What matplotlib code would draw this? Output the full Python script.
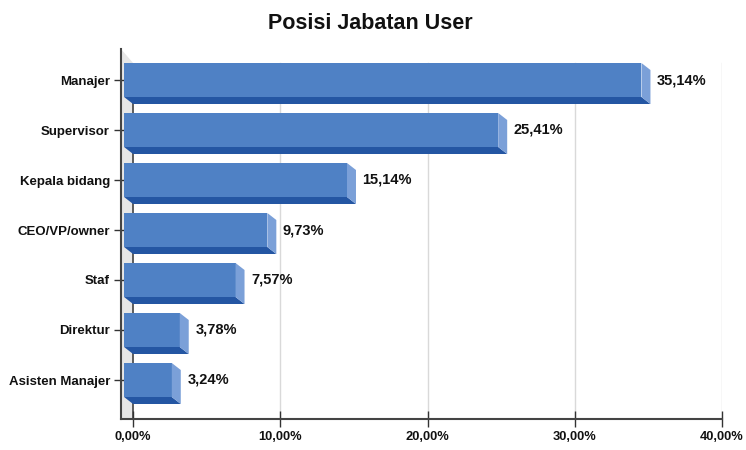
import numpy as np
import matplotlib.pyplot as plt
from matplotlib.patches import Polygon

# data (percent)
categories = ["Manajer", "Supervisor", "Kepala bidang", "CEO/VP/owner",
              "Staf", "Direktur", "Asisten Manajer"]
values = [35.14, 25.41, 15.14, 9.73, 7.57, 3.78, 3.24]
xticks = [0, 10, 20, 30, 40]

plt.rcParams['font.family'] = ['Liberation Sans', 'DejaVu Sans']

FRONT = "#4f81c5"
BOTTOM = "#2456a3"
SIDE = "#7ba0d8"

fig = plt.figure(figsize=(7.46, 4.5), dpi=100)
ax = fig.add_axes([121 / 746, 31 / 450, 601 / 746, 370 / 450])

ypos = np.arange(len(categories))[::-1]   # Manajer at top
dx = 0.61     # depth offset in x (%)
dy = 0.14     # depth offset in y
h = 0.34      # half bar height
xmin, ymin, ymax = -0.82, -0.78, 6.62

# 3d side wall + gridlines
ax.add_patch(Polygon([(xmin, ymin), (xmin, ymax), (0, 6 + h), (0, ymin)],
                     closed=True, facecolor="#e6e6e6", edgecolor="none", zorder=0))
for t in xticks[1:]:
    ax.plot([t, t], [ymin, 6 + h], color="#d9d9d9", lw=1, zorder=0.5)
ax.plot([0, 0], [ymin, 6 - h], color="#444444", lw=1.2, zorder=0.6)

# bars: front face, bottom face, right face
ax.barh(ypos, values, left=-dx, height=2 * h, color=FRONT, zorder=2)
for y, v in zip(ypos, values):
    bot = [(-dx, y - h), (v - dx, y - h), (v, y - h - dy), (0, y - h - dy)]
    side = [(v - dx, y + h), (v, y + h - dy), (v, y - h - dy), (v - dx, y - h)]
    ax.add_patch(Polygon(bot, closed=True, facecolor=BOTTOM, edgecolor="none", zorder=2))
    ax.add_patch(Polygon(side, closed=True, facecolor=SIDE, edgecolor="none", zorder=2))
    ax.text(v + 0.45, y, f"{v:.2f}%".replace(".", ","), va="center", ha="left",
            fontsize=10.5, fontweight="bold", color="#111111")

ax.set_xlim(xmin, 40)
ax.set_ylim(ymin, ymax)
ax.set_xticks(xticks)
ax.set_xticklabels([f"{t:.2f}%".replace(".", ",") for t in xticks],
                   fontsize=9.3, fontweight="bold", color="#111111")
ax.set_yticks(ypos)
ax.set_yticklabels(categories, fontsize=9.5, fontweight="bold", color="#111111")
ax.tick_params(axis="x", direction="inout", length=11, width=1, color="#333333", pad=3)
ax.tick_params(axis="y", direction="inout", length=10, width=1, color="#333333", pad=3)

for s in ["top", "right"]:
    ax.spines[s].set_visible(False)
for s in ["left", "bottom"]:
    ax.spines[s].set_color("#444444")
    ax.spines[s].set_linewidth(1.5)

fig.text(0.497, 0.947, "Posisi Jabatan User", ha="center", va="center",
         fontsize=15.5, fontweight="bold", color="#111111")

plt.savefig("out.png", dpi=100)
